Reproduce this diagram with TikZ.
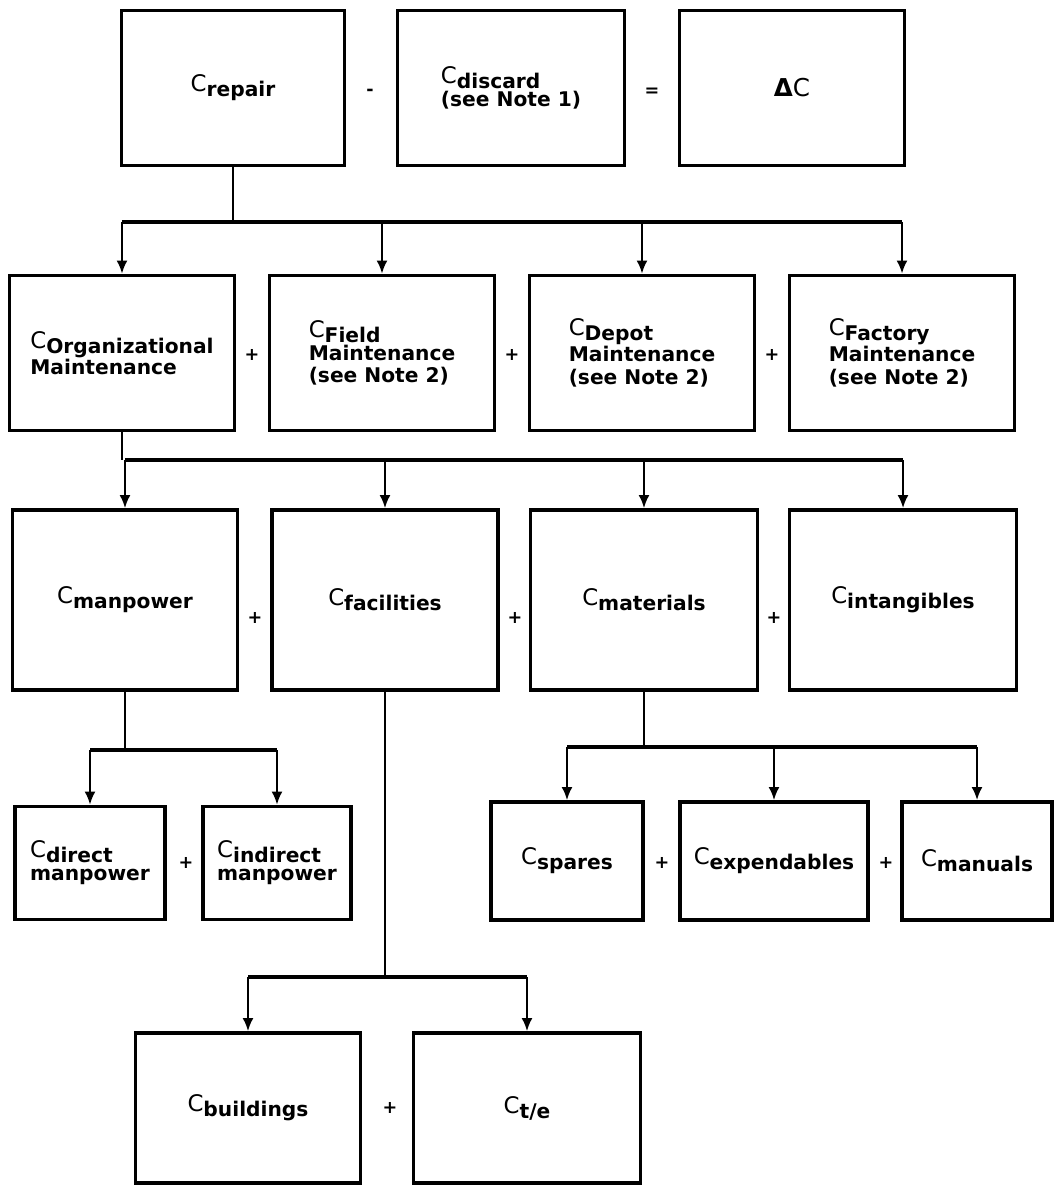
\documentclass[tikz,border=0pt]{standalone}
\usepackage{fontspec}
\setmainfont{DejaVu Sans}
\usetikzlibrary{arrows.meta}

% cost symbol: plain C with a bold, lowered subscript
\newcommand{\cost}[1]{{\mdseries\fontsize{13}{13}\selectfont C}\raisebox{-0.45ex}{#1}}

\begin{document}
\begin{tikzpicture}[x=0.02cm, y=-0.02cm,
    box/.style={draw, line width=2.2pt, align=left, inner sep=2pt,
        font={\bfseries\fontsize{11.5}{13}\selectfont}},
    link/.style={line width=1.2pt},
    bar/.style={line width=2pt},
    arrow/.style={line width=1.2pt, -{Latex[length=2.6mm, width=2.2mm]}},
    op/.style={font=\bfseries\fontsize{10}{12}\selectfont}]

    \useasboundingbox (0,0) rectangle (1056,1189);

    % Top row: repair - discard = delta
    \node[box, minimum width=4.46cm, minimum height=3.1cm] (repair) at (233,88) {\cost{repair}};
    \node[box, minimum width=4.54cm, minimum height=3.1cm] (discard) at (511,88) {\cost{discard}\\(see Note 1)};
    \node[box, minimum width=4.5cm, minimum height=3.1cm] (delta) at (792,88) {{\fontsize{14}{16}\selectfont Δ\mdseries C}};
    \node[op] (minus) at (370,92) {-};
    \node[op] (equals) at (652,92) {=};

    % Second row: maintenance levels
    \node[box, minimum width=4.5cm, minimum height=3.1cm] (org) at (122,353) {\cost{Organizational}\\Maintenance};
    \node[box, minimum width=4.5cm, minimum height=3.1cm] (field) at (382,353) {\cost{Field}\\Maintenance\\(see Note 2)};
    \node[box, minimum width=4.5cm, minimum height=3.1cm] (depot) at (642,353) {\cost{Depot}\\Maintenance\\(see Note 2)};
    \node[box, minimum width=4.5cm, minimum height=3.1cm] (factory) at (902,353) {\cost{Factory}\\Maintenance\\(see Note 2)};
    \node[op] (plusA) at (252,355) {+};
    \node[op] (plusB) at (512,355) {+};
    \node[op] (plusC) at (772,355) {+};

    % Third row: organizational cost elements
    \node[box, minimum width=4.5cm, minimum height=3.6cm] (manpower) at (125,600) {\cost{manpower}};
    \node[box, minimum width=4.52cm, minimum height=3.6cm] (facilities) at (385,600) {\cost{facilities}};
    \node[box, minimum width=4.54cm, minimum height=3.6cm] (materials) at (644,600) {\cost{materials}};
    \node[box, minimum width=4.54cm, minimum height=3.6cm] (intangibles) at (903,600) {\cost{intangibles}};
    \node[op] (plusD) at (255,618) {+};
    \node[op] (plusE) at (515,618) {+};
    \node[op] (plusF) at (774,618) {+};

    % Fourth row, left: manpower
    \node[box, minimum width=3.0cm, minimum height=2.26cm] (direct) at (90,863) {\cost{direct}\\manpower};
    \node[box, minimum width=2.96cm, minimum height=2.26cm] (indirect) at (277,863) {\cost{indirect}\\manpower};
    \node[op] (plusG) at (186,863) {+};

    % Fourth row, right: materials
    \node[box, minimum width=3.04cm, minimum height=2.36cm] (spares) at (567,861) {\cost{spares}};
    \node[box, minimum width=3.76cm, minimum height=2.36cm] (expendables) at (774,861) {\cost{expendables}};
    \node[box, minimum width=3.0cm, minimum height=2.36cm] (manuals) at (977,861) {\cost{manuals}};
    \node[op] (plusH) at (662,863) {+};
    \node[op] (plusI) at (886,863) {+};

    % Bottom row: facilities
    \node[box, minimum width=4.5cm, minimum height=3.0cm] (buildings) at (248,1108) {\cost{buildings}};
    \node[box, minimum width=4.54cm, minimum height=3.0cm] (te) at (527,1108) {\cost{t/e}};
    \node[op] (plusJ) at (390,1108) {+};

    % Connectors
    \coordinate (split1) at (233,222);
    \draw[link] (repair.south) -- (split1);
    \draw[bar] (org.north |- split1) -- (factory.north |- split1);
    \foreach \n in {org, field, depot, factory}
        \draw[arrow] (\n.north |- split1) -- (\n.north);

    \coordinate (split2) at (122,460);
    \draw[link] (org.south) -- (split2);
    \draw[bar] (manpower.north |- split2) -- (intangibles.north |- split2);
    \foreach \n in {manpower, facilities, materials, intangibles}
        \draw[arrow] (\n.north |- split2) -- (\n.north);

    \coordinate (split3) at (125,750);
    \draw[link] (manpower.south) -- (split3);
    \draw[bar] (direct.north |- split3) -- (indirect.north |- split3);
    \foreach \n in {direct, indirect}
        \draw[arrow] (\n.north |- split3) -- (\n.north);

    \coordinate (split4) at (644,747);
    \draw[link] (materials.south) -- (split4);
    \draw[bar] (spares.north |- split4) -- (manuals.north |- split4);
    \foreach \n in {spares, expendables, manuals}
        \draw[arrow] (\n.north |- split4) -- (\n.north);

    \coordinate (split5) at (385,977);
    \draw[link] (facilities.south) -- (split5);
    \draw[bar] (buildings.north |- split5) -- (te.north |- split5);
    \foreach \n in {buildings, te}
        \draw[arrow] (\n.north |- split5) -- (\n.north);
\end{tikzpicture}
\end{document}
